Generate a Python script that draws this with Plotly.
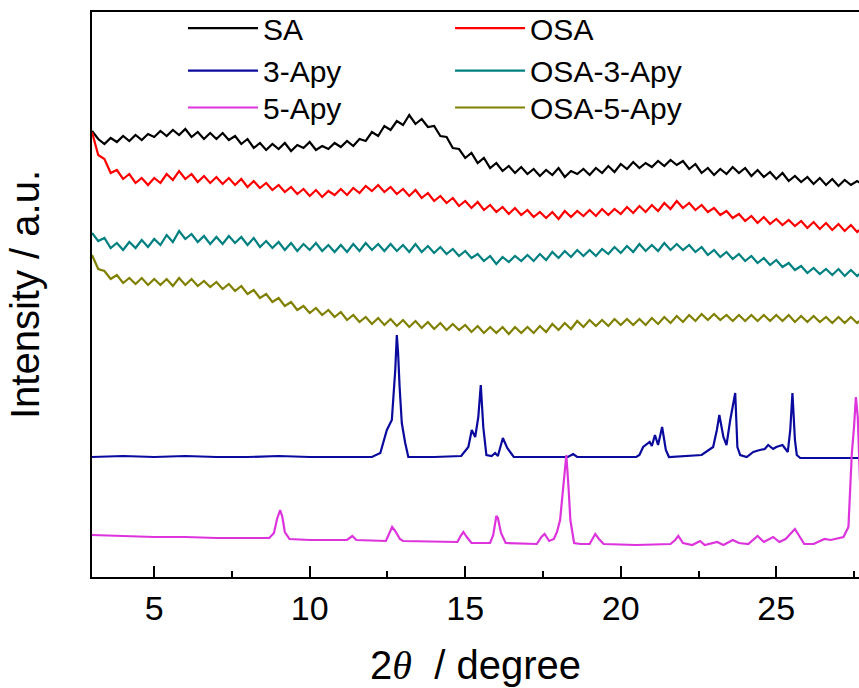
import numpy as np
import plotly.graph_objects as go

# 2-theta grid for the amorphous (noisy) patterns, degrees
two_theta = np.round(np.arange(3.0, 27.81, 0.2), 1)

# Intensities (a.u., offset-stacked as in the figure)
sa = [
    446, 438, 433, 439, 435, 441, 436, 442, 437, 443,
    440, 446, 441, 447, 442, 448, 440, 445, 438, 444,
    438, 444, 437, 441, 433, 438, 429, 434, 427, 433,
    428, 434, 426, 432, 429, 435, 427, 431, 428, 434,
    430, 436, 431, 438, 436, 445, 441, 451, 447, 456,
    452, 462, 453, 458, 450, 451, 441, 440, 429, 428,
    419, 424, 414, 419, 409, 414, 406, 411, 404, 410,
    403, 408, 401, 407, 402, 409, 400, 406, 403, 408,
    402, 409, 404, 411, 405, 413, 408, 415, 409, 414,
    410, 416, 411, 417, 412, 416, 408, 413, 404, 409,
    402, 408, 403, 410, 404, 409, 401, 407, 400, 405,
    398, 404, 396, 401, 395, 400, 393, 399, 392, 398,
    391, 397, 392, 396, 392,
]
osa = [
    445, 422, 418, 404, 407, 398, 403, 394, 399, 392,
    399, 394, 403, 397, 406, 398, 403, 395, 401, 394,
    400, 393, 399, 392, 398, 390, 396, 389, 394, 387,
    392, 385, 390, 383, 388, 381, 387, 380, 386, 382,
    388, 382, 389, 384, 391, 386, 392, 385, 390, 383,
    388, 381, 387, 379, 384, 376, 381, 374, 379, 371,
    376, 369, 375, 367, 372, 365, 370, 363, 369, 362,
    367, 360, 365, 359, 365, 358, 366, 360, 366, 361,
    367, 361, 368, 362, 368, 363, 370, 364, 371, 365,
    372, 366, 374, 368, 376, 369, 374, 367, 372, 365,
    369, 362, 366, 359, 363, 356, 361, 354, 360, 353,
    358, 352, 357, 351, 356, 349, 355, 348, 354, 347,
    353, 346, 352, 345, 350,
]
osa_3apy = [
    344, 336, 339, 329, 334, 327, 335, 329, 337, 330,
    338, 332, 342, 335, 346, 338, 343, 335, 341, 333,
    340, 333, 341, 334, 340, 332, 339, 330, 336, 329,
    335, 327, 334, 326, 333, 327, 334, 326, 332, 325,
    332, 325, 333, 326, 334, 327, 333, 326, 333, 326,
    332, 325, 333, 325, 331, 324, 330, 323, 328, 321,
    326, 319, 323, 316, 321, 313, 320, 315, 321, 316,
    322, 316, 323, 317, 325, 319, 326, 320, 327, 321,
    327, 321, 328, 323, 330, 324, 331, 325, 333, 326,
    332, 326, 334, 327, 333, 327, 332, 325, 330, 322,
    327, 320, 325, 318, 323, 316, 321, 314, 319, 312,
    317, 310, 314, 307, 311, 304, 309, 303, 308, 302,
    308, 301, 307, 301, 306,
]
osa_5apy = [
    322, 308, 306, 298, 302, 294, 299, 293, 299, 292,
    298, 292, 298, 291, 299, 292, 298, 291, 296, 290,
    295, 288, 293, 286, 291, 283, 287, 279, 283, 275,
    279, 271, 275, 267, 271, 264, 269, 262, 267, 260,
    265, 257, 262, 255, 260, 253, 259, 252, 258, 251,
    257, 250, 256, 249, 255, 248, 254, 247, 253, 247,
    252, 245, 251, 244, 250, 244, 250, 243, 250, 244,
    250, 244, 251, 245, 253, 247, 254, 248, 256, 250,
    257, 251, 257, 251, 258, 252, 258, 252, 258, 252,
    259, 253, 260, 254, 261, 255, 262, 256, 263, 257,
    263, 257, 262, 256, 262, 256, 262, 256, 262, 256,
    262, 256, 262, 255, 261, 255, 261, 255, 260, 254,
    260, 254, 260, 254, 259,
]

# Crystalline patterns (peak-resolved points)
apy3_x = [3.0, 4.0, 5.0, 6.0, 7.0, 8.0, 9.0, 10.0, 11.0, 12.0, 12.27, 12.48, 12.64,
          12.75, 12.8, 12.84, 12.89, 12.96, 13.07, 13.17, 14.0, 14.87, 15.1, 15.21,
          15.32, 15.42, 15.5, 15.58, 15.68, 15.85, 15.96, 16.05, 16.21, 16.35, 16.56,
          18.3, 18.47, 18.6, 20.5, 20.6, 20.72, 20.85, 20.93, 21.0, 21.1, 21.2, 21.33,
          21.45, 21.55, 22.6, 22.81, 22.97, 23.09, 23.17, 23.3, 23.4, 23.52, 23.58,
          23.68, 23.75, 23.84, 24.05, 24.26, 24.47, 24.63, 24.74, 24.9, 25.0, 25.2,
          25.37, 25.45, 25.52, 25.6, 25.66, 25.77, 27.8]
apy3_y = [120, 121, 120, 121, 120, 120, 121, 120, 120, 120, 124, 147, 157,
          207, 242, 225, 190, 154, 134, 120, 120, 121, 130, 147,
          140, 160, 192, 150, 122, 121, 124, 121, 139, 129, 120,
          120, 123, 120, 120, 122, 130, 133, 135, 131, 142, 132, 150,
          127, 120, 122, 127, 130, 147, 162, 140, 132, 157, 167,
          184, 130, 122, 120, 125, 127, 128, 132, 128, 130, 132,
          125, 147, 184, 137, 122, 119, 119]

apy5_x = [3.0, 4.0, 5.0, 6.0, 7.0, 8.0, 8.7, 8.85, 8.95, 9.05, 9.12, 9.2, 9.35, 10.0,
          11.2, 11.37, 11.5, 12.45, 12.55, 12.65, 12.75, 12.9, 13.0, 14.0, 14.75,
          14.85, 14.94, 15.05, 15.2, 15.8, 15.9, 16.0, 16.05, 16.15, 16.3, 17.3,
          17.45, 17.55, 17.7, 17.85, 17.95, 18.05, 18.15, 18.25, 18.32, 18.38, 18.5,
          18.7, 19.0, 19.1, 19.18, 19.3, 19.45, 20.5, 21.6, 21.75, 21.85, 22.0, 22.3,
          22.55, 22.7, 23.1, 23.3, 23.6, 23.8, 24.1, 24.4, 24.6, 24.9, 25.1, 25.3,
          25.6, 25.75, 25.9, 26.2, 26.55, 26.75, 27.16, 27.32, 27.43, 27.5, 27.56,
          27.62, 27.7, 27.8]
apy5_y = [42, 41, 40, 40, 39, 39, 39, 44, 58, 67, 60, 45, 38, 37,
          37, 41, 37, 36, 44, 50, 46, 38, 36, 35, 35,
          41, 45, 40, 34, 34, 42, 61, 59, 44, 34, 33,
          40, 43, 36, 38, 45, 57, 90, 122, 90, 57, 34,
          33, 33, 39, 43, 38, 33, 32, 33, 37, 41, 34, 32,
          36, 32, 35, 32, 37, 34, 33, 41, 35, 40, 35, 38,
          48, 40, 33, 33, 38, 37, 40, 50, 124, 150, 180,
          160, 90, 50]

x_ticks = [5, 10, 15, 20, 25]

# (name, x, y, colour, legend id, legend column x, legend row y) -- 2 columns x 3 rows
series = [
    ("SA", two_theta, sa, "#000000", "legend2", 0.1186, 0.9715),
    ("OSA", two_theta, osa, "#ff0000", "legend3", 0.4668, 0.9715),
    ("3-Apy", apy3_x, apy3_y, "#0a0a9e", "legend4", 0.1186, 0.8962),
    ("OSA-3-Apy", two_theta, osa_3apy, "#008080", "legend5", 0.4668, 0.8962),
    ("5-Apy", apy5_x, apy5_y, "#dd33dd", "legend6", 0.1186, 0.831),
    ("OSA-5-Apy", two_theta, osa_5apy, "#808000", "legend7", 0.4668, 0.831),
]

fig = go.Figure()
legends = {}
for name, xs, ys, color, lg, lx, ly in series:
    fig.add_trace(go.Scatter(x=xs, y=ys, mode="lines", name=name, showlegend=True,
                             line=dict(color=color, width=2.2), legend=lg))
    legends[lg] = dict(
        x=lx, y=ly, yanchor="middle", xanchor="left", bgcolor="rgba(0,0,0,0)",
        font=dict(family="Liberation Sans, Arial, sans-serif", size=30, color="#000"),
        itemwidth=70, visible=True,
    )

fig.update_layout(
    width=859, height=688,
    margin=dict(l=92, r=0, t=12, b=111),
    paper_bgcolor="white", plot_bgcolor="white",
    showlegend=True,
    font=dict(family="Liberation Sans, Arial, sans-serif", color="#000"),
    xaxis=dict(
        range=[3.0, 27.66], tickvals=x_ticks, ticks="inside", ticklen=11, tickwidth=1.5,
        tickcolor="#000", showline=True, linecolor="#000", linewidth=2, mirror=True,
        showgrid=False, zeroline=False, automargin=False,
        tickfont=dict(size=34, family="Liberation Sans, Arial, sans-serif"),
        minor=dict(dtick=2.5, tick0=2.5, ticks="inside", ticklen=6, tickwidth=1.5, tickcolor="#000"),
        title=dict(text="2<i><span style='font-family:Liberation Serif'>θ</span></i>  / degree",
                   font=dict(size=40), standoff=25),
    ),
    yaxis=dict(
        range=[0, 565], showticklabels=False, ticks="", showline=True, linecolor="#000",
        linewidth=2, mirror=False, showgrid=False, zeroline=False, automargin=False,
        title=dict(text="Intensity / a.u.", font=dict(size=40), standoff=38),
    ),
    **legends,
)

# Remove the page's default body margin so the 859x688 figure fills the window exactly.
fig.write_html("out.html", config={"displayModeBar": False},
               post_script="document.body.style.margin='0';")
